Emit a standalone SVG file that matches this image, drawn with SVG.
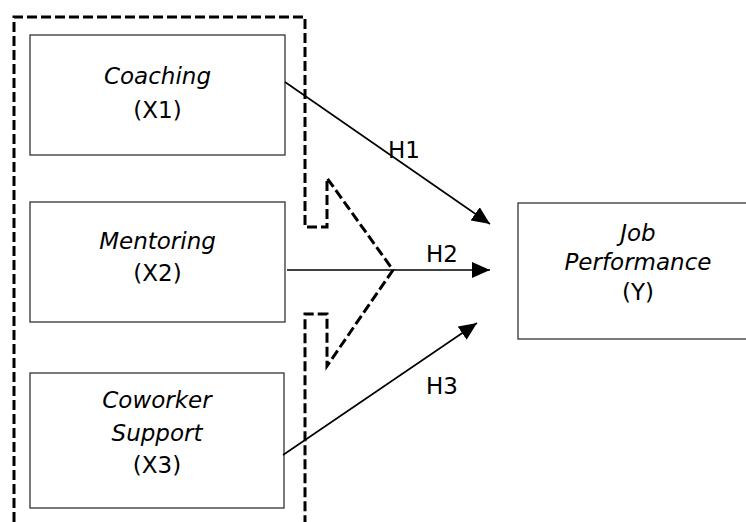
<svg xmlns="http://www.w3.org/2000/svg" width="746" height="522" viewBox="0 0 746 522">
<style>
.box{fill:#fff;stroke:#333;stroke-width:1.3}
.t{font-family:"DejaVu Sans",sans-serif;font-size:23px;fill:#000;text-anchor:middle}
.i{font-style:italic}
.dash{fill:none;stroke:#000;stroke-width:3;stroke-dasharray:10 4}
.con{fill:none;stroke:#000;stroke-width:1.6}
</style>
<defs>
<marker id="ah" viewBox="0 0 18 16" refX="18" refY="8" markerWidth="18" markerHeight="16" markerUnits="userSpaceOnUse" orient="auto">
<path d="M0,0 L18,8 L0,16 z" fill="#000"/>
</marker>
</defs>
<rect width="746" height="522" fill="#fff"/>
<g id="frame">
<path class="dash" d="M14,522 L14,17 L305,17 L305,227 L327,227 L327,178 L393,270 L327,366 L327,314 L305,314 L305,522"/>
</g>
<g id="coaching">
<rect class="box" x="30" y="35" width="255" height="120"/>
<text class="t i" x="157.5" y="84">Coaching</text>
<text class="t" x="157.5" y="118">(X1)</text>
</g>
<g id="mentoring">
<rect class="box" x="30" y="202" width="255" height="120"/>
<text class="t i" x="157.5" y="249">Mentoring</text>
<text class="t" x="157.5" y="281">(X2)</text>
</g>
<g id="coworker">
<rect class="box" x="30" y="373" width="254" height="135"/>
<text class="t i" x="157" y="408">Coworker</text>
<text class="t i" x="157" y="441">Support</text>
<text class="t" x="157" y="473">(X3)</text>
</g>
<g id="job">
<rect class="box" x="518" y="203" width="240" height="136"/>
<text class="t i" x="638" y="241">Job</text>
<text class="t i" x="638" y="270">Performance</text>
<text class="t" x="638" y="300">(Y)</text>
</g>
<g id="connectors">
<line class="con" x1="285" y1="82" x2="490" y2="224" marker-end="url(#ah)"/>
<line class="con" x1="287" y1="270" x2="490" y2="270" marker-end="url(#ah)"/>
<line class="con" x1="283" y1="455" x2="477" y2="323" marker-end="url(#ah)"/>
<text class="t" x="404" y="158">H1</text>
<text class="t" x="442" y="262">H2</text>
<text class="t" x="442" y="394">H3</text>
</g>
</svg>
